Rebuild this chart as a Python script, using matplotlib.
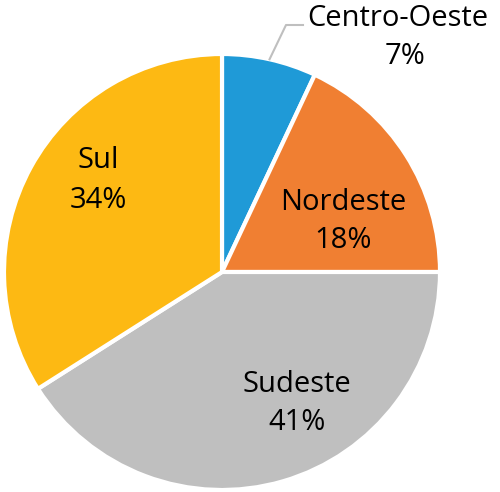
import numpy as np
import matplotlib
matplotlib.use("Agg")
import matplotlib.pyplot as plt

regions = ["Centro-Oeste", "Nordeste", "Sudeste", "Sul"]
shares = [7, 18, 41, 34]
colors = ["#1F9AD7", "#F07F32", "#BFBFBF", "#FDB913"]

W, H = 500, 492
fig = plt.figure(figsize=(W / 100, H / 100), dpi=100)
cx, cy, R = 222, 272, 218
ax = fig.add_axes([(cx - R) / W, (H - cy - R) / H, 2 * R / W, 2 * R / H])
ax.pie(shares, colors=colors, startangle=90, counterclock=False,
       wedgeprops=dict(edgecolor="white", linewidth=3), radius=1)
ax.set_xlim(-1, 1)
ax.set_ylim(-1, 1)
ax.set_aspect("equal")
ax.axis("off")

def d(px, py):
    return (px - cx) / R, (cy - py) / R

# label positions (pixel centers of name line and percent line)
pos = {
    "Centro-Oeste": ((398, 19), (405, 57)),
    "Nordeste": ((343, 202), (343, 241)),
    "Sudeste": ((297, 384), (297, 422)),
    "Sul": ((98, 160), (98, 200)),
}
font = dict(family="Open Sans", fontsize=21, color="black",
            ha="center", va="center")
for name, val in zip(regions, shares):
    (nx, ny), (vx, vy) = pos[name]
    ax.text(*d(nx, ny), name, clip_on=False, **font)
    ax.text(*d(vx, vy), f"{val}%", clip_on=False, **font)

# leader line for Centro-Oeste
mid = np.deg2rad(90 - 360 * shares[0] / 100 / 2)
p0 = (np.cos(mid), np.sin(mid))
p1 = d(286, 25)
p2 = d(303, 25)
ax.plot([p0[0], p1[0], p2[0]], [p0[1], p1[1], p2[1]], color="#BFBFBF",
        lw=1.5, clip_on=False)

fig.savefig("out.png", dpi=100)
